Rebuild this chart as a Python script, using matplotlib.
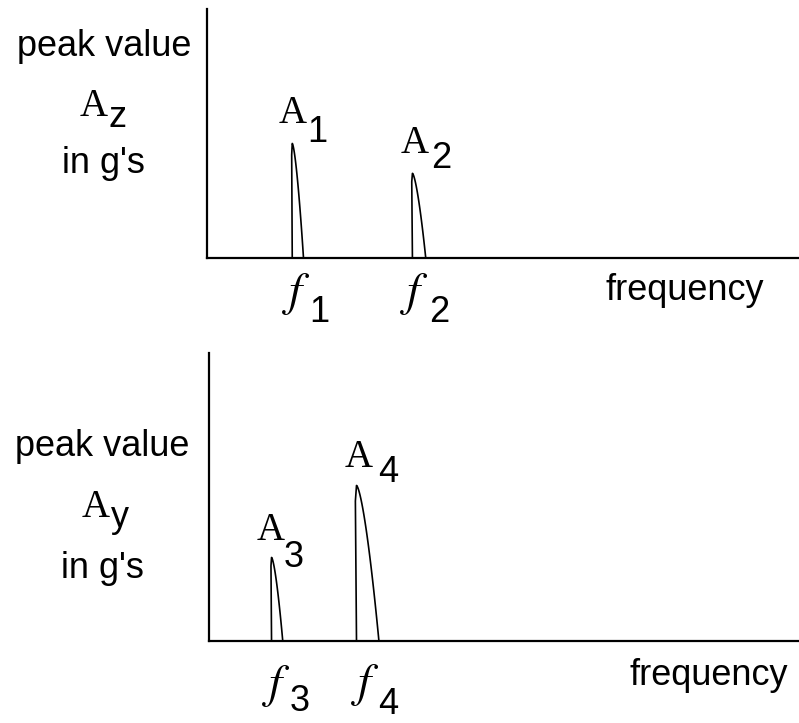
import numpy as np
import matplotlib
matplotlib.use("Agg")
import matplotlib.pyplot as plt

# ---- data ----
panels = ["z", "y"]
peak_freqs_z = [14.4, 34.7]       # f1, f2 (axis units 0-100)
peak_widths_z = [1.9, 2.25]
peak_amps_z = [0.46, 0.34]        # A1, A2 (axis units 0-1)
peak_labels_z = ["1", "2"]

peak_freqs_y = [10.6, 25.0]       # f3, f4
peak_widths_y = [1.9, 3.8]
peak_amps_y = [0.29, 0.54]        # A3, A4
peak_labels_y = ["3", "4"]

W, H = 799, 723
fig = plt.figure(figsize=(W / 100, H / 100), dpi=100)

SANS = "Liberation Sans"
SERIF = "Liberation Serif"


def P(x, y):
    return x / W, 1 - y / H


def ftxt(x, y, s, size, family=SANS, style="normal", **kw):
    fig.text(*P(x, y), s, fontsize=size, family=family, style=style,
             ha="center", va="baseline", **kw)


def make_axes(x0, y0, x1, y1):
    ax = fig.add_axes([x0 / W, 1 - y1 / H, (x1 - x0) / W, (y1 - y0) / H])
    ax.set_xlim(0, 100)
    ax.set_ylim(0, 1)
    for s in ["top", "right"]:
        ax.spines[s].set_visible(False)
    for s in ["left", "bottom"]:
        ax.spines[s].set_linewidth(1.6)
        ax.spines[s].set_color("black")
    ax.set_xticks([])
    ax.set_yticks([])
    ax.patch.set_alpha(0)
    return ax


def draw_peaks(ax, freqs, widths, amps):
    for f, w, a in zip(freqs, widths, amps):
        s = np.linspace(0, 1, 100)
        xs = np.concatenate([[f, f - 0.05 * w], f + w * s])
        ys = np.concatenate([[0, a * 0.9], a * (1 - s ** 1.5)])
        ax.plot(xs, ys, color="black", lw=1.2, clip_on=False,
                solid_joinstyle="round")


ax1 = make_axes(207, 9, 799, 258)
draw_peaks(ax1, peak_freqs_z, peak_widths_z, peak_amps_z)

ax2 = make_axes(209, 353, 799, 641)
draw_peaks(ax2, peak_freqs_y, peak_widths_y, peak_amps_y)

# ---- left labels ----
ftxt(104, 56, "peak value", 26)
ftxt(94, 116, "A", 28, SERIF)
ftxt(118, 127, "z", 26)
ftxt(103, 173, "in g's", 26)

ftxt(102, 456, "peak value", 26)
ftxt(96, 517, "A", 28, SERIF)
ftxt(120, 527, "y", 26)
ftxt(102, 578, "in g's", 26)

# ---- peak labels (A_n above, f_n below) ----
A_pos_z = [(293, 123, 317, 142), (415, 153, 441, 168)]
f_pos_z = [(296, 305, 319, 322), (414, 305, 439, 322)]
for lab, (ax_, ay_, sx, sy), (fx, fy, gx, gy) in zip(peak_labels_z, A_pos_z, f_pos_z):
    ftxt(ax_, ay_, "A", 28, SERIF)
    ftxt(sx, sy, lab, 26)
    ftxt(fx, fy, "$f$", 34, math_fontfamily="stix")
    ftxt(gx, gy, lab, 26)

A_pos_y = [(271, 540, 294, 567), (359, 467, 388, 482)]
f_pos_y = [(276, 697, 300, 711), (365, 696, 388, 714)]
for lab, (ax_, ay_, sx, sy), (fx, fy, gx, gy) in zip(peak_labels_y, A_pos_y, f_pos_y):
    ftxt(ax_, ay_, "A", 28, SERIF)
    ftxt(sx, sy, lab, 26)
    ftxt(fx, fy, "$f$", 34, math_fontfamily="stix")
    ftxt(gx, gy, lab, 26)

ftxt(685, 300, "frequency", 26)
ftxt(709, 685, "frequency", 26)

fig.savefig("out.png", dpi=100)
